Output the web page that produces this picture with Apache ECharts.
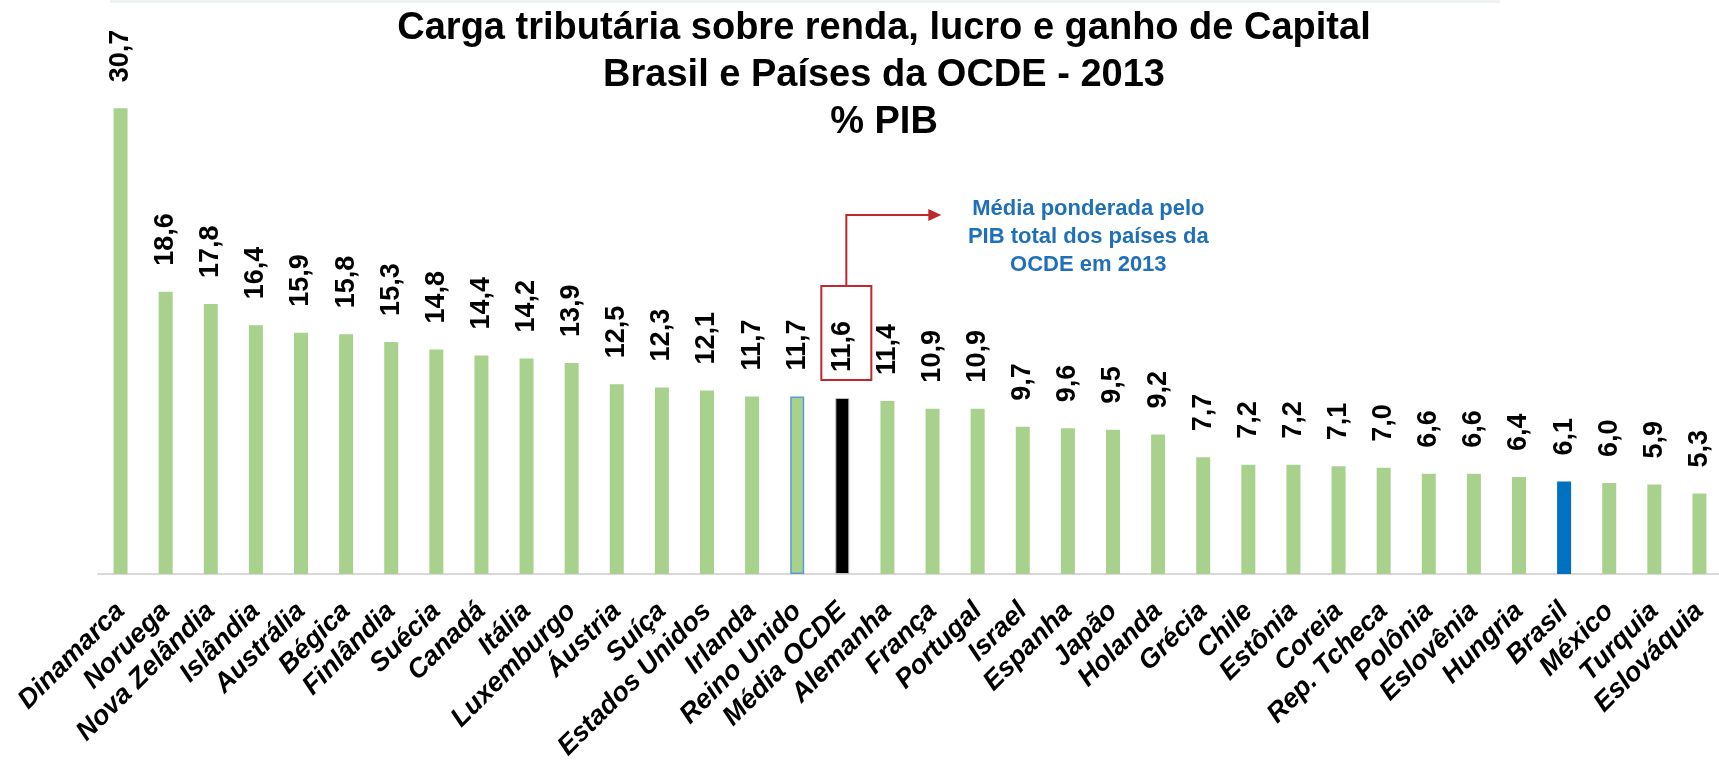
<!DOCTYPE html>
<html>
<head>
<meta charset="utf-8">
<title>Carga tributária sobre renda, lucro e ganho de Capital</title>
<script src="https://cdn.jsdelivr.net/npm/echarts@6/dist/echarts.min.js"></script>
<style>
  html, body { margin: 0; padding: 0; background: #fff; }
  #main { width: 1719px; height: 760px; }
</style>
</head>
<body>
<div id="main"></div>
<script>
let paises = ['Dinamarca', 'Noruega', 'Nova Zelândia', 'Islândia', 'Austrália', 'Bégica', 'Finlândia', 'Suécia',
  'Canadá', 'Itália', 'Luxemburgo', 'Áustria', 'Suíça', 'Estados Unidos', 'Irlanda', 'Reino Unido', 'Média OCDE',
  'Alemanha', 'França', 'Portugal', 'Israel', 'Espanha', 'Japão', 'Holanda', 'Grécia', 'Chile', 'Estônia', 'Coreia',
  'Rep. Tcheca', 'Polônia', 'Eslovênia', 'Hungria', 'Brasil', 'México', 'Turquia', 'Eslováquia'];
let carga = [30.7, 18.6, 17.8, 16.4, 15.9, 15.8, 15.3, 14.8, 14.4, 14.2, 13.9, 12.5, 12.3, 12.1, 11.7, 11.7, 11.6,
  11.4, 10.9, 10.9, 9.7, 9.6, 9.5, 9.2, 7.7, 7.2, 7.2, 7.1, 7.0, 6.6, 6.6, 6.4, 6.1, 6.0, 5.9, 5.3];
let notaMedia = ['Média ponderada pelo', 'PIB total dos países da', 'OCDE em 2013'];

const FONT = '"Liberation Sans", Arial, sans-serif';
let dom = document.getElementById('main');
let myChart = echarts.init(dom);

// cores especiais: Reino Unido com contorno azul, média preta, Brasil azul
let barData = carga.map(function (v, i) {
  let item = {value: v};
  if (paises[i] === 'Média OCDE') {
    item.itemStyle = {color: '#000000', borderColor: '#BFBFBF', borderWidth: 1};
  } else if (paises[i] === 'Brasil') {
    item.itemStyle = {color: '#0070C0'};
  } else if (paises[i] === 'Reino Unido') {
    item.itemStyle = {color: '#A9D18E', borderColor: '#5B9BD5', borderWidth: 1.5};
  }
  return item;
});

let option = {
  animation: false,
  backgroundColor: '#ffffff',
  title: {
    text: 'Carga tributária sobre renda, lucro e ganho de Capital\nBrasil e Países da OCDE - 2013\n% PIB',
    left: 879,
    top: 0,
    textAlign: 'center',
    textStyle: {
      fontFamily: FONT,
      fontSize: 38,
      fontWeight: 'bold',
      color: '#000',
      lineHeight: 47
    }
  },
  grid: {
    left: 98,
    top: 43,
    width: 1624,
    bottom: 186,
    containLabel: false,
    outerBoundsMode: 'none'
  },
  xAxis: {
    type: 'category',
    data: paises,
    axisLine: {lineStyle: {color: '#D9D9D9', width: 2}},
    axisTick: {show: false},
    axisLabel: {
      interval: 0,
      rotate: 45,
      margin: 33,
      fontFamily: FONT,
      fontSize: 27,
      fontWeight: 'bold',
      fontStyle: 'italic',
      color: '#000'
    }
  },
  yAxis: {
    type: 'value',
    min: 0,
    max: 35,
    show: false
  },
  series: [{
    type: 'bar',
    data: barData,
    barWidth: 14,
    itemStyle: {color: '#A9D18E'},
    label: {
      show: true,
      position: 'top',
      rotate: 90,
      align: 'left',
      verticalAlign: 'middle',
      distance: 26,
      fontFamily: FONT,
      fontSize: 27,
      fontWeight: 'bold',
      color: '#000',
      formatter(params) {
        return params.value.toFixed(1).replace('.', ',');
      }
    }
  }]
};

myChart.setOption(option);

// anotação da média: caixa vermelha, seta e texto azul
let iMedia = paises.indexOf('Média OCDE');
let p = myChart.convertToPixel({seriesIndex: 0}, [iMedia, carga[iMedia]]);
let cx = p[0] + 4;
let topo = p[1];
let vermelho = '#C0282D';
myChart.setOption({
  graphic: [
    {type: 'rect', left: 110, top: 0, shape: {width: 1390, height: 3}, style: {fill: '#EEF2F1'}, silent: true},
    {
      type: 'rect',
      shape: {x: cx - 25, y: topo - 112, width: 50, height: 94},
      style: {fill: 'none', stroke: vermelho, lineWidth: 2}
    },
    {
      type: 'polyline',
      shape: {points: [[cx, topo - 112], [cx, topo - 183], [cx + 84, topo - 183]]},
      style: {fill: 'none', stroke: vermelho, lineWidth: 2}
    },
    {
      type: 'polygon',
      shape: {points: [[cx + 95, topo - 183], [cx + 82, topo - 189], [cx + 82, topo - 177]]},
      style: {fill: vermelho}
    },
    {
      type: 'text',
      x: cx + 242,
      y: topo - 203,
      style: {
        text: notaMedia.join('\n'),
        fill: '#1F70B8',
        font: 'bold 22px ' + FONT,
        lineHeight: 28,
        align: 'center',
        verticalAlign: 'top'
      }
    }
  ]
});
</script>
</body>
</html>
